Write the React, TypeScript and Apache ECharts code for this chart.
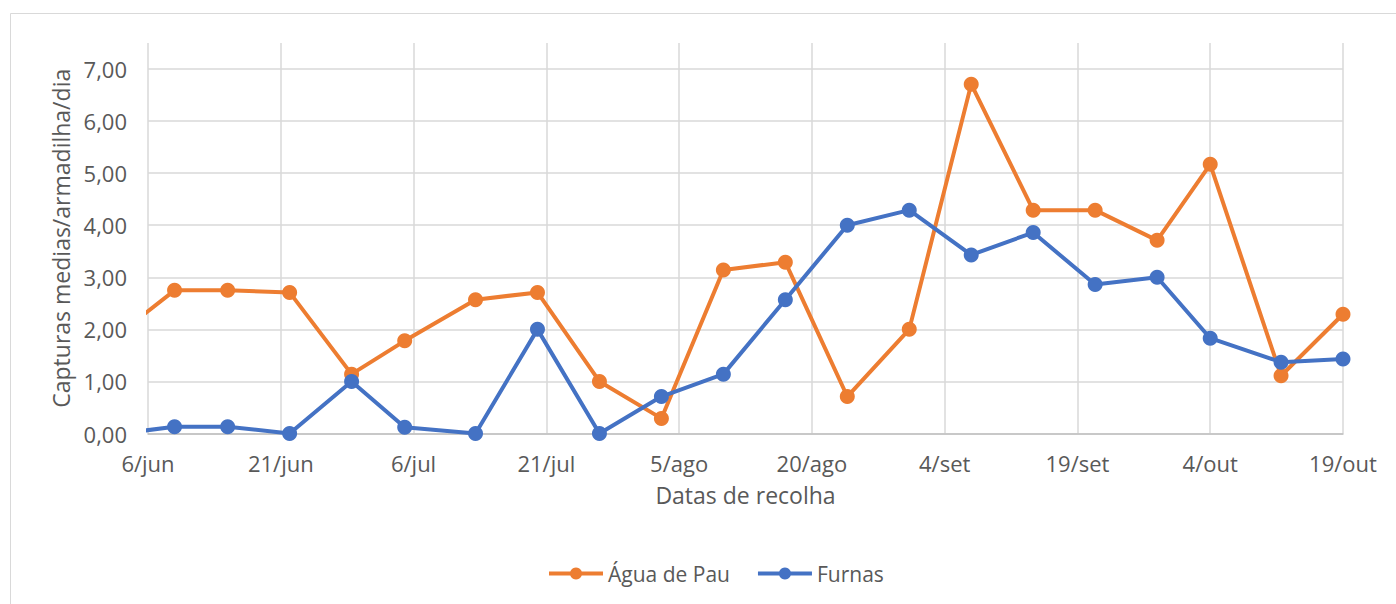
import React, { useEffect, useRef } from "react";
import * as echarts from "echarts";

const axisStart = "2019-06-06";
const axisEndDays = 135;
const tickStepDays = 15;
const monthNames = ["jan", "fev", "mar", "abr", "mai", "jun", "jul", "ago", "set", "out", "nov", "dez"];

const dates = [
  "2019-06-03", "2019-06-09", "2019-06-15", "2019-06-22", "2019-06-29", "2019-07-05",
  "2019-07-13", "2019-07-20", "2019-07-27", "2019-08-03", "2019-08-10", "2019-08-17",
  "2019-08-24", "2019-08-31", "2019-09-07", "2019-09-14", "2019-09-21", "2019-09-28",
  "2019-10-04", "2019-10-12", "2019-10-19",
];
const aguaDePau = [1.95, 2.75, 2.75, 2.71, 1.14, 1.78, 2.57, 2.71, 1.0, 0.29, 3.14, 3.29, 0.71, 2.0, 6.71, 4.29, 4.29, 3.71, 5.17, 1.11, 2.29];
const furnas = [0.0, 0.13, 0.13, 0.0, 1.0, 0.12, 0.0, 2.0, 0.0, 0.71, 1.14, 2.57, 4.0, 4.29, 3.43, 3.86, 2.86, 3.0, 1.83, 1.37, 1.43];

const DAY = 86400000;
const startMs = Date.parse(axisStart + "T00:00:00Z");
const dayOffset = (d: string) => Math.round((Date.parse(d + "T00:00:00Z") - startMs) / DAY);
const dayLabel = (v: number) => {
  const dt = new Date(startMs + v * DAY);
  return dt.getUTCDate() + "/" + monthNames[dt.getUTCMonth()];
};

const FONT = "Open Sans";
const TXT = "#595959";

export default function App() {
  const ref = useRef<HTMLDivElement>(null);
  useEffect(() => {
    document.body.style.margin = "0";
    const chart = echarts.init(ref.current!, null, { renderer: "svg" });
    const mk = (vals: number[]) => dates.map((d, i) => [dayOffset(d), vals[i]]);
    chart.setOption({
      animation: false,
      backgroundColor: "#ffffff",
      textStyle: { fontFamily: FONT },
      graphic: [
        {
          type: "rect",
          shape: { x: 10.5, y: 13.5, width: 1500, height: 700 },
          style: { fill: "none", stroke: "#d9d9d9", lineWidth: 1 },
          silent: true,
        },
      ],
      grid: { left: 148, right: 53, top: 43, bottom: 170.5, containLabel: false },
      legend: {
        left: 542,
        top: 558,
        itemWidth: 54,
        itemHeight: 15,
        itemGap: 26,
        lineStyle: { width: 4 },
        textStyle: { fontFamily: FONT, fontSize: 21, color: TXT },
        data: ["Água de Pau", "Furnas"],
      },
      xAxis: {
        type: "value",
        min: 0,
        max: axisEndDays,
        interval: tickStepDays,
        name: "Datas de recolha",
        nameLocation: "middle",
        nameGap: 50,
        nameTextStyle: { fontFamily: FONT, fontSize: 23, color: TXT },
        axisLine: { show: true, lineStyle: { color: "#bfbfbf", width: 1.5 } },
        axisTick: { show: false },
        axisLabel: {
          formatter: (v: number) => dayLabel(v),
          fontFamily: FONT,
          fontSize: 22,
          color: TXT,
          margin: 18,
          showMinLabel: true,
          showMaxLabel: true,
        },
        splitLine: { show: true, lineStyle: { color: "#d9d9d9", width: 1.5 } },
      },
      yAxis: {
        type: "value",
        min: 0,
        max: 7.5,
        interval: 1,
        name: "Capturas medias/armadilha/dia",
        nameLocation: "middle",
        nameGap: 76,
        nameTextStyle: { fontFamily: FONT, fontSize: 23, color: TXT },
        axisLine: { show: false },
        axisTick: { show: false },
        axisLabel: {
          formatter: (v: number) => (v > 7.01 ? "" : v.toFixed(2).replace(".", ",")),
          fontFamily: FONT,
          fontSize: 22,
          color: TXT,
          margin: 21,
          showMaxLabel: false,
        },
        splitLine: {
          show: true,
          lineStyle: {
            color: ["#d9d9d9", "#d9d9d9", "#d9d9d9", "#d9d9d9", "#d9d9d9", "#d9d9d9", "#d9d9d9", "#d9d9d9", "rgba(0,0,0,0)"],
            width: 1.5,
          },
        },
      },
      series: [
        {
          name: "Água de Pau",
          type: "line",
          data: mk(aguaDePau),
          clip: true,
          symbol: "circle",
          symbolSize: 15,
          showAllSymbol: true,
          itemStyle: { color: "#ED7D31" },
          lineStyle: { color: "#ED7D31", width: 4 },
        },
        {
          name: "Furnas",
          type: "line",
          data: mk(furnas),
          clip: true,
          symbol: "circle",
          symbolSize: 15,
          showAllSymbol: true,
          itemStyle: { color: "#4472C4" },
          lineStyle: { color: "#4472C4", width: 4 },
        },
      ],
    });
    return () => chart.dispose();
  }, []);
  return <div ref={ref} style={{ position: "absolute", left: 0, top: 0, width: 1396, height: 604 }} />;
}
